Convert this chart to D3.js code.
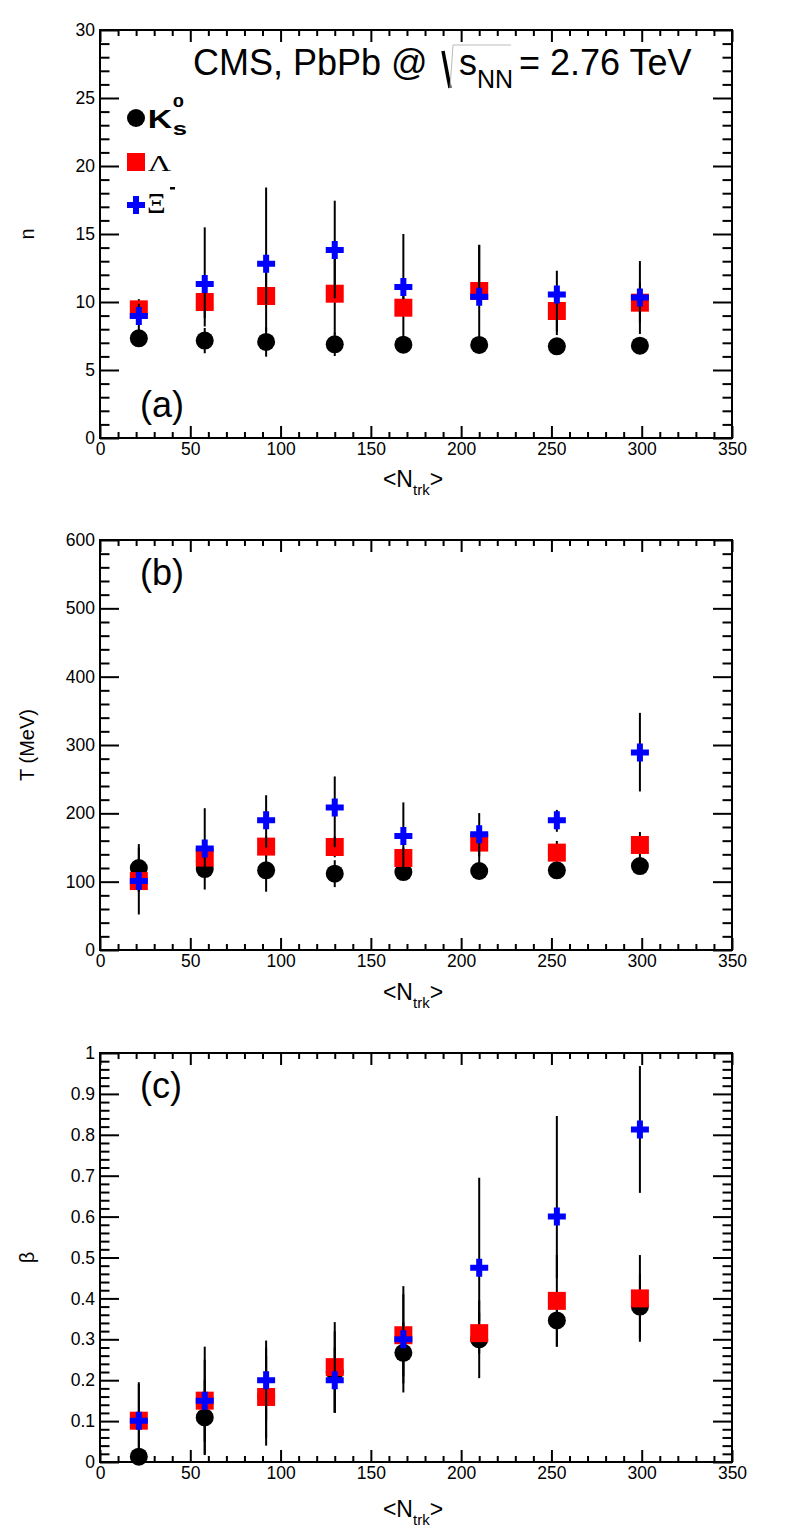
<!DOCTYPE html>
<html>
<head>
<meta charset="utf-8">
<script src="https://cdn.jsdelivr.net/npm/d3@7"></script>
<style>
  body { margin: 0; background: #fff; }
</style>
</head>
<body>
<div id="chart"></div>
<script>
// multiplicity bins
const nTrk = [21.5, 58, 92, 130, 168, 210, 253, 299];

// (a) exponent n
const k0sN      = [7.33, 7.16, 7.06, 6.89, 6.86, 6.84, 6.74, 6.79];
const k0sNErr   = [0.3, 0.93, 1.08, 0.86, 0.5, 0.5, 0.5, 0.5];
const lamN      = [9.46, 10.0, 10.44, 10.61, 9.58, 10.81, 9.34, 9.95];
const lamNErr   = [0.75, 1.8, 2.6, 3.0, 2.2, 3.4, 1.5, 1.5];
const xiN       = [8.97, 11.32, 12.82, 13.82, 11.1, 10.39, 10.56, 10.34];
const xiNErrHi  = [0.9, 4.17, 5.6, 3.63, 3.9, 3.8, 1.74, 2.67];
const xiNErrLo  = [1.2, 2.5, 3.0, 3.55, 0.9, 0.5, 2.99, 2.69];

// (b) temperature T (MeV)
const k0sT      = [120, 118.5, 116.6, 111.7, 114, 115.6, 116.6, 122.9];
const k0sTErr   = [35, 30, 31.3, 19.7, 10, 10, 10, 10];
const lamT      = [100.9, 135.2, 151.3, 150.7, 134.6, 157.2, 142.5, 153.7];
const lamTErr   = [15, 15, 15, 15, 15, 20, 17, 19];
const xiT       = [101, 148.5, 190, 208.5, 167, 169.4, 190, 289];
const xiTErrHi  = [49, 59, 36.5, 45.5, 49, 31, 15, 58];
const xiTErrLo  = [49, 30, 40, 58, 48, 50, 17, 57];

// (c) flow velocity beta
const k0sB      = [0.013, 0.109, 0.16, 0.22, 0.267, 0.30, 0.346, 0.38];
const k0sBErr   = [0.01, 0.092, 0.12, 0.10, 0.075, 0.095, 0.064, 0.08];
const lamB      = [0.101, 0.15, 0.159, 0.232, 0.31, 0.315, 0.394, 0.40];
const lamBErr   = [0.09, 0.1, 0.1, 0.11, 0.1, 0.05, 0.112, 0.106];
const xiB       = [0.101, 0.15, 0.20, 0.20, 0.30, 0.475, 0.60, 0.813];
const xiBErrHi  = [0.094, 0.132, 0.097, 0.08, 0.13, 0.22, 0.246, 0.155];
const xiBErrLo  = [0.094, 0.132, 0.097, 0.08, 0.13, 0.13, 0.15, 0.155];

// tick labels
const xTicks    = [0, 50, 100, 150, 200, 250, 300, 350];
const nTicks    = [0, 5, 10, 15, 20, 25, 30];
const tTicks    = [0, 100, 200, 300, 400, 500, 600];
const betaTicks = [0, 0.1, 0.2, 0.3, 0.4, 0.5, 0.6, 0.7, 0.8, 0.9, 1];

const font = "'Liberation Sans', Arial, Helvetica, sans-serif";
const serif = "'Liberation Serif', 'Times New Roman', serif";

const svg = d3.select("#chart").append("svg")
  .attr("width", 790)
  .attr("height", 1536)
  .style("background", "#fff");

const left = 100, right = 732;
const x = d3.scaleLinear().domain([0, 350]).range([left, right]);

function minorValues(major, n) {
  let out = [];
  for (let i = 0; i < major.length - 1; i++) {
    let step = (major[i + 1] - major[i]) / n;
    for (let k = 1; k < n; k++) out.push(major[i] + k * step);
  }
  return out;
}

function styleAxis(sel) {
  sel.select(".domain").remove();
  sel.selectAll("line").attr("stroke", "#000").attr("stroke-width", 2);
  sel.selectAll("text")
    .attr("font-family", font)
    .attr("font-size", 17.5)
    .attr("fill", "#000");
}

const markers = {
  k0s: { shape: d3.symbolCircle, size: Math.PI * 81, color: "#000" },
  lam: { shape: d3.symbolSquare, size: 324, color: "#ff0000" },
  xi:  { shape: d3.symbolCross,  size: 180, color: "#0000ff" }
};

function drawSeries(g, y, vals, lo, hi, m) {
  g.append("g").selectAll("line")
    .data(vals)
    .enter()
    .append("line")
    .attr("x1", (d, i) => x(nTrk[i]))
    .attr("x2", (d, i) => x(nTrk[i]))
    .attr("y1", (d, i) => y(d - lo[i]))
    .attr("y2", (d, i) => y(d + hi[i]))
    .attr("stroke", "#000")
    .attr("stroke-width", 2);
  g.append("g").selectAll("path")
    .data(vals)
    .enter()
    .append("path")
    .attr("d", d3.symbol(m.shape, m.size))
    .attr("transform", (d, i) => "translate(" + x(nTrk[i]) + "," + y(d) + ")")
    .attr("fill", m.color);
}

function panel(opt) {
  const y = d3.scaleLinear().domain([0, opt.ticks[opt.ticks.length - 1]]).range([opt.bottom, opt.top]);
  const g = svg.append("g");
  const xMinor = minorValues(xTicks, 5);
  const yMinor = minorValues(opt.ticks, 5);

  g.append("g").attr("transform", "translate(0," + opt.bottom + ")")
    .call(d3.axisBottom(x).tickValues(xTicks).tickSize(-12).tickPadding(5).tickFormat(d3.format("d")))
    .call(styleAxis);
  g.append("g").attr("transform", "translate(0," + opt.bottom + ")")
    .call(d3.axisBottom(x).tickValues(xMinor).tickSize(-6).tickFormat(""))
    .call(styleAxis);
  g.append("g").attr("transform", "translate(0," + opt.top + ")")
    .call(d3.axisTop(x).tickValues(xTicks).tickSize(-12).tickFormat(""))
    .call(styleAxis);
  g.append("g").attr("transform", "translate(0," + opt.top + ")")
    .call(d3.axisTop(x).tickValues(xMinor).tickSize(-6).tickFormat(""))
    .call(styleAxis);

  g.append("g").attr("transform", "translate(" + left + ",0)")
    .call(d3.axisLeft(y).tickValues(opt.ticks).tickSize(-19).tickPadding(5).tickFormat(d3.format(".1~f")))
    .call(styleAxis);
  g.append("g").attr("transform", "translate(" + left + ",0)")
    .call(d3.axisLeft(y).tickValues(yMinor).tickSize(-9.5).tickFormat(""))
    .call(styleAxis);
  g.append("g").attr("transform", "translate(" + right + ",0)")
    .call(d3.axisRight(y).tickValues(opt.ticks).tickSize(-19).tickFormat(""))
    .call(styleAxis);
  g.append("g").attr("transform", "translate(" + right + ",0)")
    .call(d3.axisRight(y).tickValues(yMinor).tickSize(-9.5).tickFormat(""))
    .call(styleAxis);

  g.append("rect")
    .attr("x", left).attr("y", opt.top)
    .attr("width", right - left).attr("height", opt.bottom - opt.top)
    .attr("fill", "none").attr("stroke", "#000").attr("stroke-width", 2);

  drawSeries(g, y, opt.k0s[0], opt.k0s[1], opt.k0s[1], markers.k0s);
  drawSeries(g, y, opt.lam[0], opt.lam[1], opt.lam[1], markers.lam);
  drawSeries(g, y, opt.xi[0], opt.xi[2], opt.xi[1], markers.xi);

  // x title
  const xt = g.append("text")
    .attr("x", 413).attr("y", opt.bottom + opt.xTitleOff)
    .attr("text-anchor", "middle")
    .attr("font-family", font).attr("font-size", 23);
  xt.append("tspan").text("<N");
  xt.append("tspan").attr("dy", 8).attr("font-size", 15).text("trk");
  xt.append("tspan").attr("dy", -8).text(">");

  // y title
  g.append("text")
    .attr("transform", "translate(34," + ((opt.top + opt.bottom) / 2) + ") rotate(-90)")
    .attr("text-anchor", "middle")
    .attr("font-family", font).attr("font-size", 20)
    .text(opt.yTitle);

  // panel letter
  g.append("text")
    .attr("x", 140).attr("y", opt.top + opt.letterOff)
    .attr("font-family", font).attr("font-size", 36)
    .text(opt.letter);
  return g;
}

panel({ top: 30, bottom: 438, ticks: nTicks, k0s: [k0sN, k0sNErr], lam: [lamN, lamNErr],
        xi: [xiN, xiNErrHi, xiNErrLo], yTitle: "n", letter: "(a)", letterOff: 387, xTitleOff: 49 });
panel({ top: 540, bottom: 950, ticks: tTicks, k0s: [k0sT, k0sTErr], lam: [lamT, lamTErr],
        xi: [xiT, xiTErrHi, xiTErrLo], yTitle: "T (MeV)", letter: "(b)", letterOff: 45, xTitleOff: 50 });
panel({ top: 1053, bottom: 1462, ticks: betaTicks, k0s: [k0sB, k0sBErr], lam: [lamB, lamBErr],
        xi: [xiB, xiBErrHi, xiBErrLo], yTitle: "β", letter: "(c)", letterOff: 45, xTitleOff: 55 });

// title
svg.append("text").attr("x", 193).attr("y", 75)
  .attr("font-family", font).attr("font-size", 36)
  .text("CMS, PbPb @");
svg.append("path").attr("d", "M443,51 L450,88")
  .attr("stroke", "#000").attr("stroke-width", 3.5).attr("fill", "none");
svg.append("path").attr("d", "M450,88 L453,45 L511,45")
  .attr("stroke", "#bbb").attr("stroke-width", 1).attr("fill", "none");
svg.append("text").attr("x", 459).attr("y", 75)
  .attr("font-family", font).attr("font-size", 36).text("s");
svg.append("text").attr("x", 477).attr("y", 88)
  .attr("font-family", font).attr("font-size", 25).text("NN");
svg.append("text").attr("x", 519).attr("y", 75)
  .attr("font-family", font).attr("font-size", 36).text("= 2.76 TeV");

// legend
const leg = svg.append("g");
leg.append("rect").attr("x", 123).attr("y", 97).attr("width", 95).attr("height", 126).attr("fill", "#fff");
const legItems = [
  { m: markers.k0s, y: 118 },
  { m: markers.lam, y: 162 },
  { m: markers.xi,  y: 205 }
];
leg.selectAll("path").data(legItems).enter().append("path")
  .attr("d", d => d3.symbol(d.m.shape, d.m.size)())
  .attr("transform", d => "translate(136," + d.y + ")")
  .attr("fill", d => d.m.color);

// legend labels are drawn a bit wider than normal, like the original
const lt = leg.append("g").attr("transform", "translate(147,0) scale(1.35,1)");
lt.append("text").attr("x", 0.5).attr("y", 128)
  .attr("font-family", font).attr("font-weight", "bold").attr("font-size", 25).text("K");
lt.append("text").attr("x", 19).attr("y", 107)
  .attr("font-family", font).attr("font-weight", "bold").attr("font-size", 15).text("0");
lt.append("text").attr("x", 19).attr("y", 135)
  .attr("font-family", font).attr("font-weight", "bold").attr("font-size", 19).text("s");
lt.append("text").attr("x", 0.5).attr("y", 171)
  .attr("font-family", serif).attr("font-size", 24).text("Λ");
leg.append("text").attr("x", 147).attr("y", 213)
  .attr("font-family", serif).attr("font-size", 29).text("Ξ");
leg.append("rect").attr("x", 170).attr("y", 187).attr("width", 5).attr("height", 2.5).attr("fill", "#000");
</script>
</body>
</html>
